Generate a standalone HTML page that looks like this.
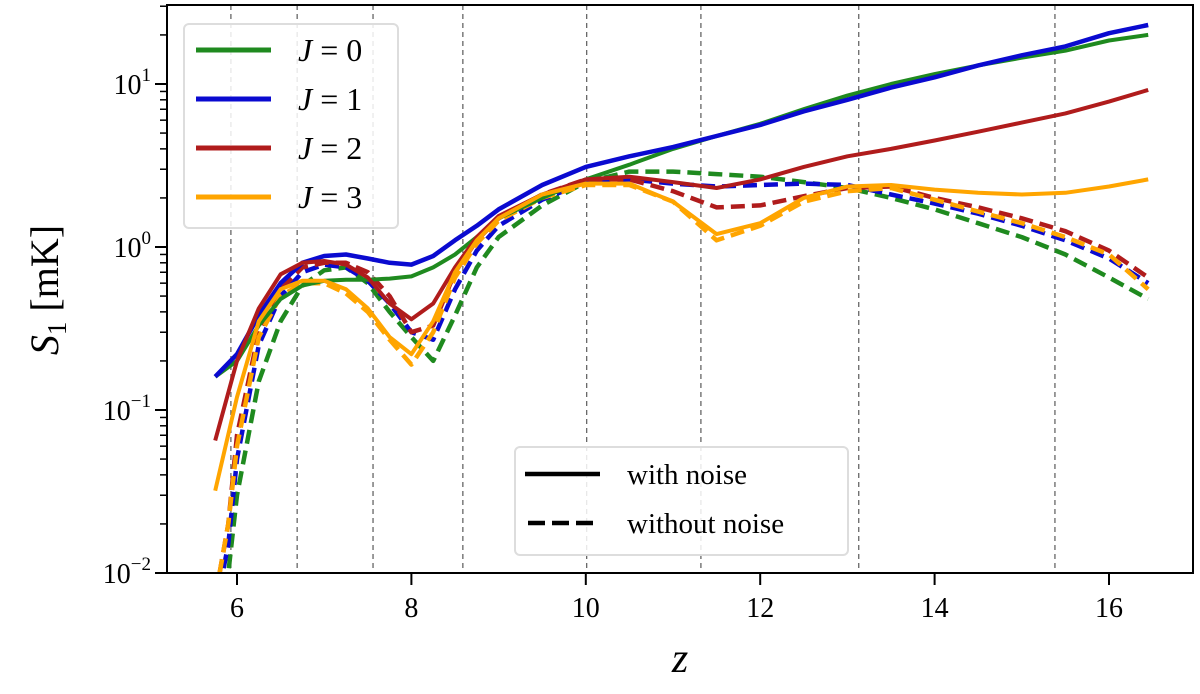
<!DOCTYPE html>
<html><head><meta charset="utf-8"><style>
body{margin:0;background:#fff}
svg text{font-family:"Liberation Serif",serif}
</style></head><body>
<svg id="c" width="1200" height="689" xmlns="http://www.w3.org/2000/svg"></svg>
<script>
const zSolid=[5.75,6,6.25,6.5,6.75,7,7.25,7.5,7.75,8,8.25,8.5,8.75,9,9.5,10,10.5,11,11.5,12,12.5,13,13.5,14,14.5,15,15.5,16,16.45];
const j0Solid=[0.16,0.2,0.33,0.48,0.58,0.62,0.63,0.63,0.64,0.66,0.75,0.9,1.15,1.5,2.0,2.6,3.2,4.0,4.8,5.7,7.0,8.5,10,11.5,13,14.5,16,18.5,20];
const j1Solid=[0.16,0.22,0.38,0.6,0.8,0.88,0.9,0.85,0.8,0.78,0.88,1.1,1.35,1.7,2.4,3.1,3.6,4.1,4.8,5.6,6.8,8.0,9.5,11,13,15,17,20.5,23];
const j2Solid=[0.065,0.2,0.42,0.68,0.8,0.82,0.78,0.65,0.45,0.36,0.45,0.75,1.15,1.55,2.1,2.6,2.7,2.5,2.3,2.6,3.1,3.6,4.0,4.5,5.1,5.8,6.6,7.8,9.2];
const j3Solid=[0.032,0.12,0.35,0.55,0.62,0.62,0.55,0.42,0.28,0.22,0.35,0.7,1.1,1.5,2.1,2.45,2.45,1.9,1.2,1.4,2.0,2.35,2.4,2.25,2.15,2.1,2.15,2.35,2.6];
const zDash=[5.8,5.9,6,6.25,6.5,6.75,7,7.25,7.5,7.75,8,8.25,8.5,8.75,9,9.5,10,10.5,11,11.5,12,12.5,13,13.5,14,14.5,15,15.5,16,16.45];
const j0Dash=[0.006,0.01,0.03,0.15,0.35,0.58,0.72,0.75,0.6,0.4,0.28,0.2,0.38,0.75,1.15,1.8,2.5,2.9,2.9,2.8,2.7,2.5,2.3,2.0,1.7,1.4,1.15,0.9,0.65,0.48];
const j1Dash=[0.008,0.015,0.05,0.25,0.5,0.7,0.78,0.75,0.62,0.45,0.3,0.27,0.55,0.95,1.35,1.95,2.5,2.6,2.45,2.35,2.4,2.45,2.4,2.1,1.85,1.6,1.35,1.1,0.85,0.6];
const j2Dash=[0.01,0.02,0.07,0.3,0.55,0.75,0.8,0.8,0.7,0.5,0.3,0.33,0.7,1.1,1.5,2.1,2.6,2.6,2.2,1.75,1.8,2.05,2.3,2.35,2.0,1.75,1.5,1.25,0.95,0.65];
const j3Dash=[0.01,0.02,0.06,0.28,0.5,0.6,0.6,0.52,0.4,0.27,0.19,0.3,0.65,1.05,1.45,2.0,2.4,2.4,1.9,1.1,1.35,1.9,2.2,2.3,1.95,1.65,1.4,1.15,0.9,0.55];
const xTicks=[6,8,10,12,14,16];
const yTickExp=[-2,-1,0,1];
const vLines=[5.93,6.69,7.56,8.59,10.01,11.32,13.13,15.38];

const NS="http://www.w3.org/2000/svg",svg=document.getElementById('c');
const L=167,R=1193,T=5,B=573;
const X=z=>237+(z-6)*87.2;
const Y=v=>573-163*(Math.log10(v)+2);
function el(t,a,p){const e=document.createElementNS(NS,t);for(const k in a)e.setAttribute(k,a[k]);(p||svg).appendChild(e);return e;}
const defs=el('defs',{});const cp=el('clipPath',{id:'pc'},defs);el('rect',{x:L,y:T,width:R-L,height:B-T},cp);
const grid=el('g',{});
vLines.forEach(z=>{const l=el('line',{x1:X(z),x2:X(z),y1:T,y2:B,stroke:'#666','stroke-width':1.3,'stroke-dasharray':'5,4'},grid);

});
const plot=el('g',{'clip-path':'url(#pc)'});
function series(zs,vs,col,dash,name,w){const d=zs.map((z,i)=>(i?'L':'M')+X(z).toFixed(1)+','+Y(vs[i]).toFixed(1)).join('');
const p=el('path',{d,fill:'none',stroke:col,'stroke-width':w,'stroke-linejoin':'round','stroke-dasharray':dash?'14,7':'none'},plot);

}
const G='#1f8a1f',Bl='#0a0ad0',Rd='#b01c1c',O='#ffa500';
series(zDash,j0Dash,G,1,'j0-without-noise',4.5);
series(zDash,j1Dash,Bl,1,'j1-without-noise',4.5);
series(zDash,j2Dash,Rd,1,'j2-without-noise',4.5);
series(zDash,j3Dash,O,1,'j3-without-noise',4.5);
series(zSolid,j0Solid,G,0,'j0-with-noise',4);
series(zSolid,j1Solid,Bl,0,'j1-with-noise',4.5);
series(zSolid,j2Solid,Rd,0,'j2-with-noise',4);
series(zSolid,j3Solid,O,0,'j3-with-noise',4);
const fr=el('rect',{x:L,y:T,width:R-L,height:B-T,fill:'none',stroke:'#000','stroke-width':2});

xTicks.forEach(t=>{el('line',{x1:X(t),x2:X(t),y1:B,y2:B+12,stroke:'#000','stroke-width':2});
const tx=el('text',{x:X(t),y:B+44,'font-size':28,'text-anchor':'middle'});tx.textContent=t;
});
yTickExp.forEach(e=>{const y=Y(Math.pow(10,e));el('line',{x1:L-12,x2:L,y1:y,y2:y,stroke:'#000','stroke-width':2});
const tx=el('text',{x:L-16,y:y+10,'font-size':28,'text-anchor':'end'});tx.innerHTML='10<tspan dy="-13" font-size="19">'+(e<0?'−'+(-e):e)+'</tspan>';

for(let m=2;m<10;m++){const yy=Y(m*Math.pow(10,e));if(yy>=T)el('line',{x1:L-7,x2:L,y1:yy,y2:yy,stroke:'#000','stroke-width':1.5});}});
const xl=el('text',{x:680,y:672,'font-size':42,'font-style':'italic','text-anchor':'middle'});xl.textContent='z';

const yl=el('text',{x:0,y:0,'font-size':40,'text-anchor':'middle',transform:'translate(58,290) rotate(-90)'});
yl.innerHTML='<tspan font-style="italic">S</tspan><tspan font-size="27" dy="8">1</tspan><tspan dy="-8"> [mK]</tspan>';

const lg=el('g',{});
el('rect',{x:184,y:24,width:214,height:204,rx:5,fill:'#fff','fill-opacity':0.85,stroke:'#ddd','stroke-width':2},lg);
[[G,'0'],[Bl,'1'],[Rd,'2'],[O,'3']].forEach((c,i)=>{const y=50+i*49;
el('line',{x1:196,x2:271,y1:y,y2:y,stroke:c[0],'stroke-width':5},lg);
const t=el('text',{x:298,y:y+11,'font-size':32},lg);t.innerHTML='<tspan font-style="italic">J</tspan> = '+c[1];
});
const lg2=el('g',{});
el('rect',{x:515,y:447,width:333,height:108,rx:5,fill:'#fff','fill-opacity':0.85,stroke:'#ddd','stroke-width':2},lg2);
el('line',{x1:525,x2:600,y1:474,y2:474,stroke:'#000','stroke-width':4.5},lg2);
el('line',{x1:528,x2:600,y1:523,y2:523,stroke:'#000','stroke-width':4.5,'stroke-dasharray':'17,7'},lg2);
const a=el('text',{x:627,y:484,'font-size':29},lg2);a.textContent='with noise';

const b=el('text',{x:627,y:533,'font-size':29},lg2);b.textContent='without noise';

</script>
</body></html>
